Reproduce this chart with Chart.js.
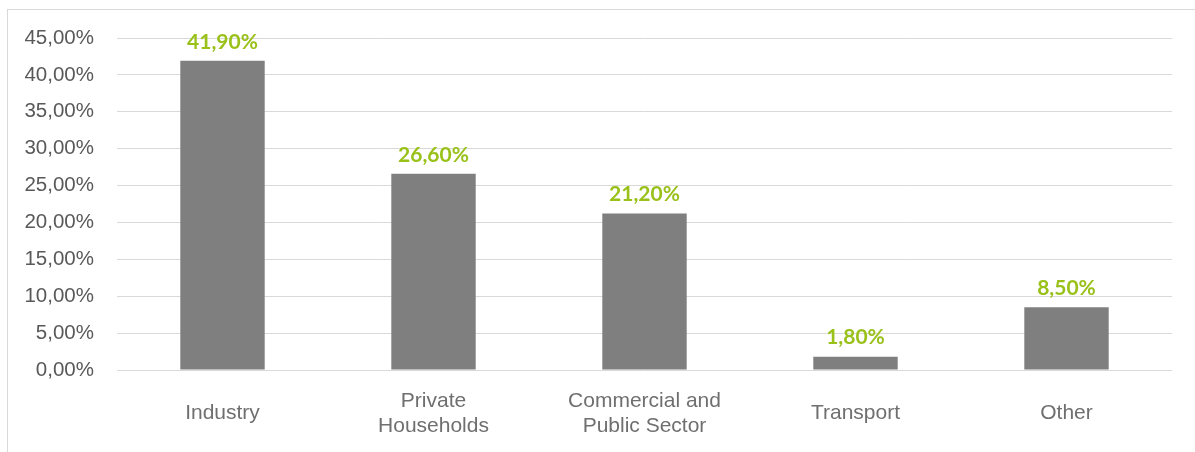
<!DOCTYPE html>
<html>
<head>
<meta charset="utf-8">
<script src="https://cdn.jsdelivr.net/npm/chart.js@4/dist/chart.umd.min.js"></script>
<style>
  html, body { margin: 0; padding: 0; background: #fff; overflow: hidden; }
  #frame { position: absolute; left: 7px; top: 9px; width: 1400px; height: 700px; border: 1px solid #d9d9d9; }
  #wrap { position: absolute; left: 0; top: 0; width: 1195px; height: 452px; }
</style>
</head>
<body>
<div id="frame"></div>
<div id="wrap"><canvas id="myChart"></canvas></div>
<script>
// chart data
var categories = ["Industry", ["Private", "Households"], ["Commercial and", "Public Sector"], "Transport", "Other"];
var shares = [41.9, 26.6, 21.2, 1.8, 8.5];
var yTickValues = [0, 5, 10, 15, 20, 25, 30, 35, 40, 45];

function pct(v) {
  return v.toFixed(2).replace(".", ",") + "%";
}

// draws the green value labels above bars
var valueLabels = {
  id: "valueLabels",
  afterDatasetsDraw: function (chart) {
    var ctx = chart.ctx;
    var meta = chart.getDatasetMeta(0);
    ctx.save();
    ctx.font = "bold 21px Lato";
    ctx.fillStyle = "#99c11a";
    ctx.textAlign = "center";
    ctx.textBaseline = "middle";
    meta.data.forEach(function (bar, i) {
      ctx.fillText(pct(shares[i]), bar.x, bar.y - 19);
    });
    ctx.restore();
  }
};

new Chart("myChart", {
  type: "bar",
  data: {
    labels: categories,
    datasets: [{
      data: shares,
      backgroundColor: "#7f7f7f",
      barPercentage: 0.4,
      categoryPercentage: 1.0
    }]
  },
  options: {
    responsive: true,
    maintainAspectRatio: false,
    animation: false,
    layout: { padding: { left: 0, right: 23, top: 38, bottom: 0 } },
    plugins: {
      legend: { display: false },
      tooltip: { enabled: false }
    },
    scales: {
      x: {
        grid: { display: false, drawTicks: false },
        border: { display: false },
        ticks: {
          color: "#6f6f6f",
          font: { family: "Liberation Sans", size: 21, lineHeight: 1.2 },
          padding: 31,
          crossAlign: "center",
          maxRotation: 0
        },
        afterFit: function (scale) {
          scale.height = 82;
          scale.paddingLeft = 0;
          scale.paddingRight = 0;
        }
      },
      y: {
        min: 0,
        max: 45,
        grid: { color: "#d9d9d9", lineWidth: 1, drawTicks: false },
        border: { display: false },
        ticks: {
          color: "#595959",
          font: { family: "Liberation Sans", size: 20.5 },
          padding: 23,
          callback: function (v) { return pct(v); }
        },
        afterBuildTicks: function (scale) {
          scale.ticks = yTickValues.map(function (v) { return { value: v }; });
        },
        afterFit: function (scale) {
          scale.width = 117;
          scale.paddingTop = 0;
          scale.paddingBottom = 0;
        }
      }
    }
  },
  plugins: [valueLabels]
});
</script>
</body>
</html>
